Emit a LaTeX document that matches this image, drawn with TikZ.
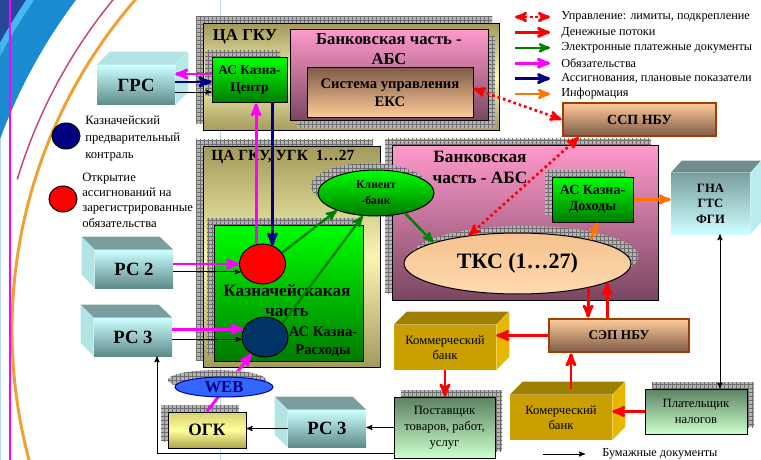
\documentclass[tikz,border=0pt]{standalone}
\usepackage{fontspec}
\setmainfont{Liberation Serif}
\usetikzlibrary{arrows,shapes.geometric,shadows,patterns}

\definecolor{mag}{HTML}{FF00FF}
\definecolor{navy}{HTML}{000080}
\definecolor{dkgreen}{HTML}{008000}
\definecolor{orng}{HTML}{FF7400}
\definecolor{nbuline}{HTML}{A33C00}
\definecolor{olivedk}{HTML}{A39A5C}
\definecolor{olivelt}{HTML}{FAF6B2}
\definecolor{grnlt}{HTML}{00FF00}
\definecolor{grndk}{HTML}{007A00}
\definecolor{pinklt}{HTML}{FF99CC}
\definecolor{pinkdk}{HTML}{7A4660}
\definecolor{peach}{HTML}{FFCC99}
\definecolor{peachdk}{HTML}{7E5A48}
\definecolor{tkstop}{HTML}{F4C28E}
\definecolor{tksbot}{HTML}{FFDAB0}
\definecolor{cyanlt}{HTML}{CCFFFF}
\definecolor{slate}{HTML}{5E8A8A}
\definecolor{cubetopc}{HTML}{7A9E9E}
\definecolor{cubesidec}{HTML}{B2E4E4}
\definecolor{goldfr}{HTML}{C9A000}
\definecolor{goldtop}{HTML}{9E8000}
\definecolor{goldside}{HTML}{E6B800}
\definecolor{firmdk}{HTML}{5C8262}
\definecolor{firmlt}{HTML}{CCFFCC}
\definecolor{ogktop}{HTML}{D8D070}
\definecolor{ogkmid}{HTML}{FFFF9C}
\definecolor{ogkbot}{HTML}{ACA44C}
\definecolor{chkfill}{HTML}{B4B4B4}
\definecolor{chkline}{HTML}{6E6E6E}
\definecolor{tpldark}{HTML}{26489A}
\definecolor{tplmid}{HTML}{1C8CD2}
\definecolor{tpllight}{HTML}{44B8F0}
\definecolor{tplred}{HTML}{CC4466}
\definecolor{tplorange}{HTML}{F0A030}
\definecolor{webblue}{HTML}{3366FF}
\definecolor{kontrblue}{HTML}{003366}

\newcommand{\setfs}[2]{\fontsize{#1}{#2}\selectfont}

\begin{document}
\begin{tikzpicture}[
		x=0.75pt, y=-0.75pt,
		>=stealth',
		every node/.style={inner sep=0pt},
		wh/.style 2 args={minimum width=#1*0.75pt, minimum height=#2*0.75pt},
		outline/.style={draw=black, line width=0.75pt},
		olivebox/.style={outline, top color=olivedk, bottom color=olivedk, middle color=olivelt},
		greenbox/.style={outline, top color=grnlt, bottom color=grndk, align=center},
		pinkbox/.style={outline, top color=pinklt, bottom color=pinkdk},
		eksbox/.style={outline, top color=peachdk, bottom color=peach, align=center},
		nbubox/.style={draw=nbuline, line width=2pt, top color=peach, bottom color=peachdk},
		cubefront/.style={top color=cyanlt, bottom color=slate, font=\setfs{14}{16}\bfseries},
		goldbox/.style={fill=goldfr, align=center, font=\setfs{9.5}{11.5}},
		firmbox/.style={outline, top color=firmdk, bottom color=firmlt, align=center, font=\setfs{9.5}{12}},
		legtext/.style={font=\setfs{9.2}{12}, anchor=west},
		chk ul/.style={general shadow={fill=chkfill, shadow xshift=-5.25pt, shadow yshift=5.25pt},
			general shadow={pattern=grid, pattern color=chkline, shadow xshift=-5.25pt, shadow yshift=5.25pt}},
		chk ur/.style={general shadow={fill=chkfill, shadow xshift=5.25pt, shadow yshift=5.25pt},
			general shadow={pattern=grid, pattern color=chkline, shadow xshift=5.25pt, shadow yshift=5.25pt}},
		chk dr/.style={general shadow={fill=chkfill, shadow xshift=5.25pt, shadow yshift=-5.25pt},
			general shadow={pattern=grid, pattern color=chkline, shadow xshift=5.25pt, shadow yshift=-5.25pt}},
		ctrl/.style={red, line width=2pt, dash pattern=on 2pt off 2.2pt, <->},
		money/.style={red, line width=2.2pt, ->},
		edoc/.style={dkgreen, line width=1.8pt, ->},
		oblig/.style={mag, line width=2.2pt, ->},
		assign/.style={navy, line width=2.2pt, ->},
		info/.style={orng, line width=2pt, ->},
		paper/.style={black, line width=0.7pt, ->}
	]
	\useasboundingbox (0,0) rectangle (761,460);
% >> slide template
	\begin{scope}
		\clip (0,0) rectangle (220,460);
		\fill[tplmid, even odd rule] (0,0) rectangle (220,460) (516,330) circle[radius=412.5pt];
		\fill[tpllight, even odd rule] (0,0) rectangle (220,460) (516,330) circle[radius=438pt];
		\fill[tpldark, even odd rule] (0,0) rectangle (220,460) (516,330) circle[radius=443pt];
		\draw[tplred, line width=1.1pt] (516,330) ++(138:390.75pt) arc[start angle=138, end angle=163.2, radius=390.75pt];
		\draw[tplorange, line width=2.2pt] (516,330) ++(137:378pt) arc[start angle=137, end angle=196, radius=378pt];
		\draw[mag, line width=0.8pt] (10,0) -- (10,460);
	\end{scope}

% >> central office
	\node[olivebox, chk ul, wh={296}{107}] (cagku) at (351,77.5) {};
	\node[font=\setfs{12.6}{15}\bfseries] (cagkutitle) at (245,37) {ЦА ГКУ};
	\node[greenbox, chk ul, wh={75}{45}, font=\setfs{10}{12.75}\bfseries] (kcentr) at (249.5,80.5) {АС Казна-\\Центр};
	\node[pinkbox, chk dr, wh={198}{91}] (abstop) at (389,75.5) {};
	\node[font=\setfs{12.5}{15}\bfseries, align=center] (abstoptitle) at (389,49) {Банковская часть -\\АБС};
	\node[eksbox, wh={166}{50}, font=\setfs{11}{13.5}\bfseries] (eks) at (390,92.5) {Система управления\\ЕКС};

	\node[cubefront, wh={78}{40}] (grs) at (136,85) {ГРС};
	\fill[cubesidec] (grs.north west) -- ++(13,-13) -- ++(78,0) -- (grs.north east) -- cycle;
	\fill[cubesidec!85!cyanlt] (grs.north east) -- ++(13,-13) -- ++(0,40) -- (grs.south east) -- cycle;

	\node[nbubox, wh={153}{33}, font=\setfs{10.5}{13}\bfseries] (ssp) at (639.5,119.5) {ССП НБУ};

% >> regional offices
	\node[olivebox, chk ul, wh={177}{220}] (ugk) at (291.5,257) {};
	\node[font=\setfs{11.6}{15}\bfseries, anchor=west] (ugktitle) at (211,157) {ЦА ГКУ, УГК\ \ 1…27};
	\node[greenbox, chk ul, wh={149}{136}] (kazpart) at (288.5,293) {};
	\node[font=\setfs{13}{15}\bfseries, align=center] (kazparttitle) at (287,301) {Казначейскакая\\часть};
	\node[font=\setfs{11}{13.5}\bfseries, align=center] (rashod) at (323,342) {АС Казна-\\Расходы};
	\node[ellipse, outline, fill=red, wh={46}{40}] (opencirc) at (262.5,264) {};
	\node[ellipse, outline, fill=kontrblue, wh={46}{40}] (kontrcirc) at (265,337) {};

	\node[pinkbox, chk ul, wh={266}{154}] (absright) at (525,223) {};
	\node[font=\setfs{13}{15.75}\bfseries, align=center] (absrighttitle) at (480,167.5) {Банковская\\часть - АБС};
	\node[greenbox, chk ul, wh={81}{45}, font=\setfs{10.5}{12}\bfseries] (dohod) at (592.5,199.5) {АС Казна-\\Доходы};
	\node[ellipse, outline, chk ur, top color=tkstop, bottom color=tksbot, wh={227}{61}, font=\setfs{16.5}{20}\bfseries] (tks) at (517.5,263.5) {ТКС (1…27)};
	\node[ellipse, outline, chk ul, top color=grnlt, bottom color=grndk, wh={116}{46}, font=\setfs{8.8}{11.8}\bfseries, align=center] (klbank) at (376,193) {Клиент\\-банк};

	\node[top color=cubetopc, bottom color=cyanlt, wh={79}{61}, font=\setfs{9.5}{11.6}\bfseries, align=center] (gna) at (710.5,203.5) {ГНА\\ГТС\\ФГИ};
	\fill[cubetopc!90!black] (gna.north west) -- ++(11,-12) -- ++(79,0) -- (gna.north east) -- cycle;
	\fill[cubesidec!70!cyanlt] (gna.north east) -- ++(11,-12) -- ++(0,61) -- (gna.south east) -- cycle;

% >> banks and clients
	\node[nbubox, wh={140}{33}, font=\setfs{10}{12}\bfseries] (sep) at (619,335.5) {СЭП НБУ};
	\node[goldbox, wh={102}{45}] (combank1) at (445,347.5) {Коммерческий\\банк};
	\fill[goldtop] (combank1.north west) -- ++(13,-13) -- ++(102,0) -- (combank1.north east) -- cycle;
	\fill[goldside] (combank1.north east) -- ++(13,-13) -- ++(0,45) -- (combank1.south east) -- cycle;
	\node[firmbox, chk ur, wh={101}{61}] (supplier) at (444.5,427.5) {Поставщик\\товаров, работ,\\услуг};
	\node[goldbox, wh={102}{45}] (combank2) at (561,417.5) {Комерческий\\банк};
	\fill[goldtop] (combank2.north west) -- ++(13,-13) -- ++(102,0) -- (combank2.north east) -- cycle;
	\fill[goldside] (combank2.north east) -- ++(13,-13) -- ++(0,45) -- (combank2.south east) -- cycle;
	\node[firmbox, chk ur, wh={102}{45}] (taxpayer) at (696,411.5) {Плательщик\\налогов};

	\node[cubefront, wh={78}{38}] (rs2) at (134,269) {РС 2};
	\node[cubefront, wh={78}{38}] (rs3a) at (133,337) {РС 3};
	\node[cubefront, wh={78}{37}] (rs3b) at (327,428.5) {РС 3};
	\foreach \rsnode in {rs2,rs3a,rs3b}{
		\fill[cubetopc] (\rsnode.north west) -- ++(-13,-13) -- ++(78,0) -- (\rsnode.north east) -- cycle;
		\fill[cubesidec] (\rsnode.north west) -- ++(-13,-13) -- ++(0,38) -- (\rsnode.south west) -- cycle;
	}
	\node[outline, chk ul, top color=ogktop, bottom color=ogkbot, middle color=ogkmid, wh={78}{36}, font=\setfs{13}{15}\bfseries] (ogk) at (207,430) {ОГК};

% >> legend
	\node[ellipse, outline, fill=navy, wh={28}{26}] (kontrleg) at (66,136) {};
	\node[font=\setfs{9.5}{12.4}, align=left, anchor=west] (kontrlegtxt) at (85,138.5) {Казначейский\\предварительный\\контраль};
	\node[ellipse, outline, fill=red, wh={28}{26}] (openleg) at (63,199) {};
	\node[font=\setfs{9.5}{11.5}, align=left, anchor=west] (openlegtxt) at (82,200) {Открытие\\ассигнований на\\зарегистрированные\\обязательства};

	\foreach \sty/\txt [count=\i] in {
			ctrl/{Управление: лимиты, подкрепление},
			money/{Денежные потоки},
			edoc/{Электронные платежные документы},
			oblig/{Обязательства},
			assign/{Ассигнования, плановые показатели},
			info/{Информация}}{
		\coordinate (legstart\i) at (515,{17+15.4*(\i-1)});
		\node[legtext] (leg\i) at (561,{17+15.4*(\i-1)}) {\txt};
		\draw[\sty] (legstart\i) -- ([xshift=-8.25pt]leg\i.west);
	}
	\coordinate (papleg) at (543,454);
	\node[legtext] (papertxt) at (602,454) {Бумажные документы};
	\draw[paper] (papleg) -- ([xshift=-12.75pt]papertxt.west);

% >> connectors
	\draw[oblig] (kcentr.west |- 0,74) -- (grs.east |- 0,74);
	\draw[assign] (grs.east |- 0,82) -- (kcentr.west |- 0,82);
	\draw[paper] (grs.east |- 0,92) -- (kcentr.west |- 0,92);
	\draw[oblig] (opencirc.108) -- (opencirc.108 |- kcentr.south);
	\draw[assign] (opencirc.62 |- kcentr.south) -- (opencirc.62);
	\draw[oblig] (rs2.east |- opencirc.west) -- (opencirc.west);
	\draw[paper] (rs2.east |- opencirc.200) -- (opencirc.200);
	\draw[oblig] (rs3a.east |- kontrcirc.160) -- (kontrcirc.160);
	\draw[paper] (rs3a.east |- kontrcirc.186) -- (kontrcirc.186);
	\draw[edoc] (opencirc.30) -- (klbank.204);
	\draw[edoc] (kontrcirc.38) -- (klbank.240);
	\draw[edoc] (klbank.-35) -- (tks.166);
	\draw[info] (tks.18) -- ([xshift=4pt]dohod.south);
	\draw[info] (dohod.east) -- (dohod.east -| gna.west);
	\draw[ctrl] (ssp.west) -- ([yshift=3pt]eks.east);
	\draw[ctrl] ([xshift=12.75pt]ssp.south west) -- (tks.150);
	\draw[money] (tks.-19) -- (tks.-19 |- sep.north);
	\draw[money] (tks.-12 |- sep.north) -- (tks.-12);
	\draw[money] (sep.west) -- (sep.west -| combank1.east);
	\draw[money] (combank1.south) -- (combank1.south |- supplier.north);
	\coordinate (cbtwoup) at ([xshift=7.5pt]combank2.north);
	\draw[money] ([yshift=4pt]cbtwoup) -- (cbtwoup |- sep.south);
	\draw[money] (taxpayer.west) -- (taxpayer.west -| combank2.east);
	\draw[paper,<->] (gna.south -| 720,0) -- (taxpayer.north -| 720,0);
	\draw[paper] (supplier.west) -- (supplier.west -| rs3b.east);
	\draw[paper] (rs3b.west) -- (rs3b.west -| ogk.east);
	\coordinate (papcorner) at (157,453);
	\draw[paper] (supplier.west |- papcorner) -- (papcorner) -- (papcorner |- rs3a.south);
	\draw[oblig] (ogk.north) -- (kontrcirc.231);

	\node[ellipse, draw=blue!60!black, line width=0.75pt, fill=webblue, chk ul, wh={98}{20}, font=\setfs{12.5}{13}\bfseries, text=navy] (web) at (224,387) {WEB};
\end{tikzpicture}
\end{document}
